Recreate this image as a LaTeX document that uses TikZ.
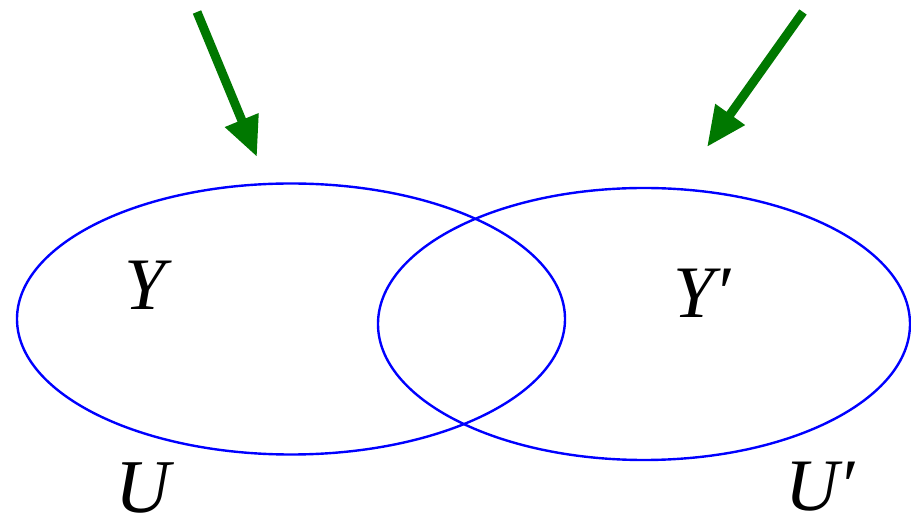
\documentclass[tikz,border=0pt]{standalone}
\usepackage{fontspec}
\setmainfont{Liberation Serif}
\usetikzlibrary{arrows.meta}
\definecolor{dgreen}{RGB}{0,120,0}
\begin{document}
\begin{tikzpicture}[x=1pt,y=-1pt,
  setline/.style={draw=blue,line width=2.4pt},
  greenarrow/.style={draw=dgreen,line width=9pt,-{Triangle[length=40pt,width=34pt]},fill=dgreen},
  lbl/.style={font=\fontsize{74}{74}\selectfont\itshape,inner sep=0pt},
  lblbig/.style={font=\fontsize{76}{76}\selectfont\itshape,inner sep=0pt}]
\useasboundingbox (0,0) rectangle (911,526);
\draw[setline] (291,319) ellipse [x radius=274pt, y radius=135.5pt];
\draw[setline] (644,324) ellipse [x radius=266pt, y radius=136pt];
\coordinate (a1s) at (197,12);
\coordinate (a1e) at (257,157);
\coordinate (a2s) at (803,12);
\coordinate (a2e) at (707,147);
\draw[greenarrow] (a1s) -- (a1e);
\draw[greenarrow] (a2s) -- (a2e);
\node[lbl] (Y) at (145,285) {Y};
\node[lbl] (Yp) at (702,293) {Y′};
\node[lblbig] (U) at (143,488) {U};
\node[lbl] (Up) at (820,487) {U′};
\end{tikzpicture}
\end{document}
